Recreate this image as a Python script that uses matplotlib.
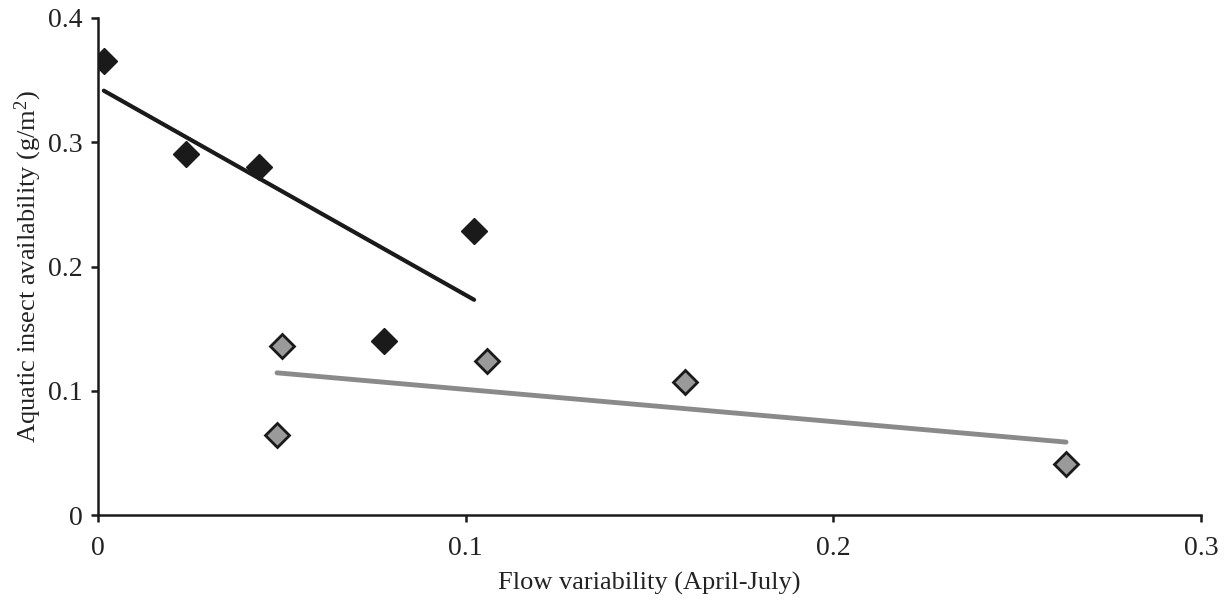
import matplotlib
matplotlib.use('Agg')
import matplotlib.pyplot as plt
import numpy as np
from matplotlib.ticker import FuncFormatter

plt.rcParams['font.family'] = ['Liberation Serif', 'DejaVu Serif']
plt.rcParams['mathtext.default'] = 'regular'

# первая группа (чёрные ромбы)
black_x = [0.0016, 0.0239, 0.0438, 0.1023, 0.0778]
black_y = [0.365, 0.2905, 0.280, 0.2286, 0.140]

# вторая группа (серые ромбы)
gray_x = [0.050, 0.0487, 0.1058, 0.1596, 0.2633]
gray_y = [0.136, 0.0644, 0.124, 0.107, 0.041]

x_ticks = [0, 0.1, 0.2, 0.3]
y_ticks = [0, 0.1, 0.2, 0.3, 0.4]


def trend(ax, xs, ys, color, lw):
    '''Линия тренда по МНК в пределах данных'''
    k, b = np.polyfit(xs, ys, 1)
    xx = np.array([min(xs), max(xs)])
    ax.plot(xx, k * xx + b, color=color, lw=lw, solid_capstyle='round', zorder=2)


fig = plt.figure(figsize=(12.26, 6.02), dpi=100)
ax = fig.add_axes([0.0799, 0.1445, 0.8997, 0.8256])

trend(ax, black_x, black_y, '#1a1a1a', 3.0)
trend(ax, gray_x, gray_y, '#8a8a8a', 3.5)

ax.plot(black_x, black_y, 'D', ms=13.5, color='#1a1a1a', mec='#1a1a1a', zorder=3)
ax.plot(gray_x, gray_y, 'D', ms=12, color='#9a9a9a', mec='#1a1a1a', mew=2, zorder=3)

ax.set_xlim(0, 0.3)
ax.set_ylim(0, 0.4)
ax.set_xticks(x_ticks)
ax.set_yticks(y_ticks)
fmt = FuncFormatter(lambda v, p: '%g' % round(v, 3))
ax.xaxis.set_major_formatter(fmt)
ax.yaxis.set_major_formatter(fmt)

for s in ['top', 'right']:
    ax.spines[s].set_visible(False)
for s in ['left', 'bottom']:
    ax.spines[s].set_linewidth(1.8)
    ax.spines[s].set_color('#1a1a1a')
    ax.spines[s].set_capstyle('projecting')

ax.tick_params(direction='out', length=5, width=1.8, colors='#1a1a1a',
               labelsize=20, labelcolor='#222222')
ax.tick_params(axis='x', pad=10)
ax.tick_params(axis='y', pad=6)

ax.set_xlabel('Flow variability (April-July)', fontsize=19, color='#222222', labelpad=8)
ax.set_ylabel('Aquatic insect availability (g/m$^{2}$)', fontsize=19, color='#222222', labelpad=3)

fig.savefig('out.png', dpi=100)
